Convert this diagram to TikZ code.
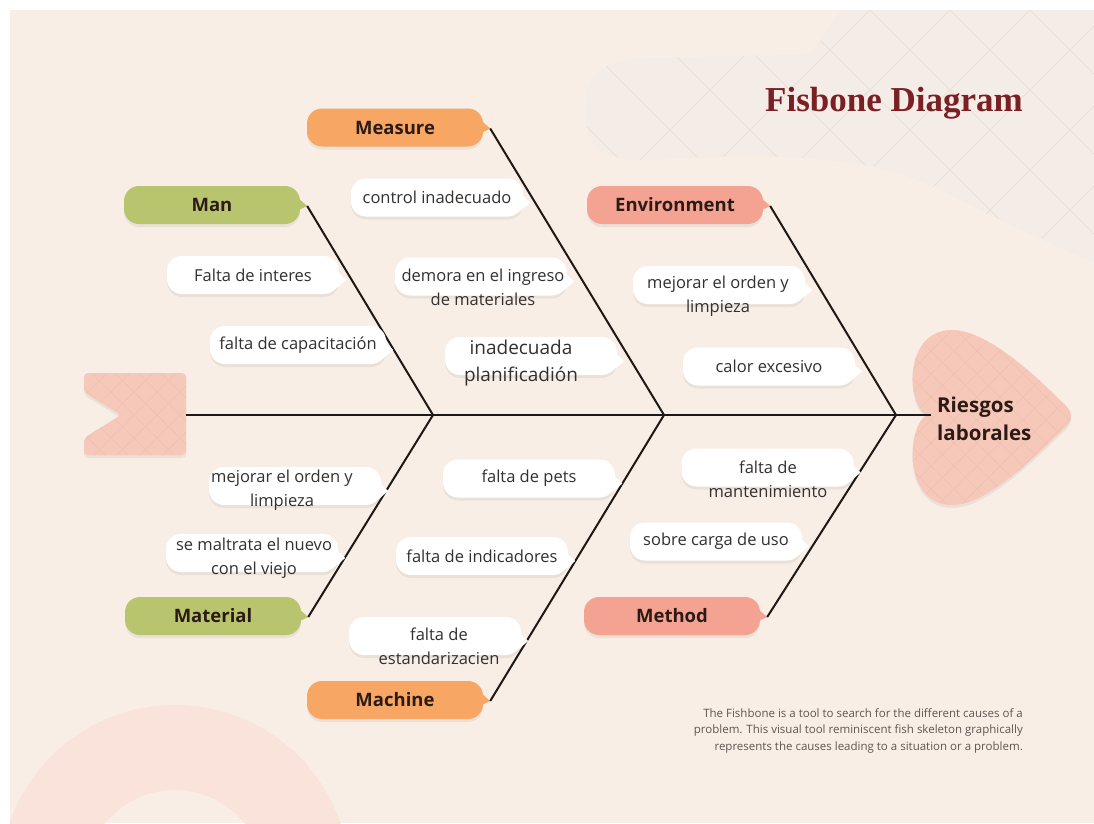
\documentclass[tikz,border=0pt]{standalone}
\usepackage{fontspec}
\setmainfont{Open Sans}
\newfontfamily\titlefont{Liberation Serif}
\usetikzlibrary{shadows}

\definecolor{paper}{HTML}{F8EEE5}
\definecolor{blob}{HTML}{F4ECE6}
\definecolor{gridc}{HTML}{E9E0D8}
\definecolor{greenc}{HTML}{B9C46E}
\definecolor{orangec}{HTML}{F7A763}
\definecolor{salmonc}{HTML}{F4A292}
\definecolor{headc}{HTML}{F6C8B9}
\definecolor{hatchc}{HTML}{F0BFAF}
\definecolor{arcc}{HTML}{F9E3DA}
\definecolor{titlec}{HTML}{7A1F24}
\definecolor{ink}{HTML}{2B1B14}
\definecolor{boneink}{HTML}{1E1916}
\definecolor{causeink}{HTML}{333030}
\definecolor{notec}{HTML}{5E5653}

\tikzset{
  soft/.style={drop shadow={shadow xshift=0pt, shadow yshift=-3pt, opacity=.12}},
  tag/.style={soft, rounded corners=15pt, minimum width=176pt, minimum height=38pt,
    inner sep=0pt, text=ink, font=\fontsize{18.5}{22}\selectfont\bfseries},
  causebox/.style={soft, fill=white, rounded corners=15pt, minimum width=172pt,
    minimum height=38pt, inner sep=0pt, text=causeink, font=\fontsize{16.5}{24}\selectfont},
  causetext/.style={inner sep=0pt, align=center, text=causeink, font=\fontsize{16.5}{24}\selectfont},
  effect/.style={inner sep=6pt, align=left, text=ink, font=\fontsize{20.5}{28}\selectfont\bfseries},
  title/.style={inner sep=0pt, text=titlec, font=\titlefont\fontsize{35}{40}\selectfont\bfseries},
  note/.style={inner sep=0pt, align=right, text=notec, font=\fontsize{11.5}{16.5}\selectfont},
  bone/.style={draw=boneink, line width=2pt},
  spine/.style={draw=boneink, line width=2.4pt},
  hatch/.style={draw=hatchc, line width=.6pt},
  gridline/.style={draw=gridc, line width=.8pt},
}

\begin{document}
\begin{tikzpicture}[x=1pt, y=-1pt]
  \useasboundingbox (0,0) rectangle (1094,823);
  \fill[white] (0,0) rectangle (1094,823);
  \fill[paper] (10,10) rectangle (1094,823);

  % background shapes
  \begin{scope}
    \clip (10,10) rectangle (1094,823);
    \fill[arcc, even odd rule] (175,880) circle (175pt) (175,880) circle (90pt);
    \clip (585,110) .. controls (585,70) and (610,58) .. (650,58) -- (800,55)
      .. controls (830,50) and (825,10) .. (850,10) -- (1094,10) -- (1094,262)
      .. controls (1040,240) and (980,210) .. (940,190)
      .. controls (880,160) and (800,150) .. (650,160)
      .. controls (610,162) and (585,150) .. (585,110) -- cycle;
    \fill[blob] (560,0) rectangle (1094,300);
    \foreach \k in {0,...,12} {
      \draw[gridline] (300+80*\k,0) -- ++(300,300);
      \draw[gridline] (500+80*\k,300) -- ++(300,-300);
    }
  \end{scope}

  % tail and head
  \fill[headc, soft, rounded corners=4pt, path picture={
      \foreach \k in {0,...,12} {
        \draw[hatch] (0+23*\k,350) -- ++(130,130);
        \draw[hatch] (0+23*\k,480) -- ++(130,-130);
      }}]
    (84,373) -- (186,373) -- (186,455) -- (84,455) -- (84,438) -- (121,415) -- (84,392) -- cycle;
  \fill[headc, soft, path picture={
      \foreach \k in {0,...,19} {
        \draw[hatch] (650+23*\k,300) -- ++(240,240);
        \draw[hatch] (650+23*\k,540) -- ++(240,-240);
      }}]
    (926,415) .. controls (905,400) and (905,330) .. (952,330)
    .. controls (985,330) and (1030,370) .. (1062,402)
    .. controls (1074,412) and (1074,420) .. (1062,430)
    .. controls (1030,462) and (985,505) .. (952,505)
    .. controls (905,505) and (905,432) .. (926,415) -- cycle;

  \node[title, anchor=base east] (title) at (1023,111) {Fisbone Diagram};
  \node[effect, anchor=west] (effect) at (931,419) {Riesgos\\laborales};

  % categories
  \node[tag, fill=greenc] (man) at (212,205) {Man};
  \node[tag, fill=orangec] (measure) at (395,127.5) {Measure};
  \node[tag, fill=salmonc] (env) at (675,205) {Environment};
  \node[tag, fill=greenc] (material) at (213,616) {Material};
  \node[tag, fill=orangec] (machine) at (395,700) {Machine};
  \node[tag, fill=salmonc] (method) at (672,616) {Method};
  \foreach \n/\col in {man/greenc, measure/orangec, env/salmonc,
                       material/greenc, machine/orangec, method/salmonc} {
    \coordinate (\n-tip) at ([shift={(7,1)}]\n.east);
    \fill[\col] ([shift={(-16,0)}]\n.north east) -- (\n-tip) -- ([shift={(-16,12)}]\n.east) -- cycle;
  }

  % skeleton
  \coordinate (tail) at (186,415);
  \coordinate (j1) at (433,415);
  \coordinate (j2) at (664,415);
  \coordinate (j3) at (896,415);
  \draw[spine] (tail) -- (tail -| effect.west);
  \draw[bone] (man-tip) -- (j1) -- (material-tip);
  \draw[bone] (measure-tip) -- (j2) -- (machine-tip);
  \draw[bone] (env-tip) -- (j3) -- (method-tip);

  % causes
  \node[causebox] (ctrl) at (437,197.5) {control inadecuado};
  \node[causebox] (interes) at (253,275) {Falta de interes};
  \node[causebox, minimum width=176pt] (capac) at (298,345) {falta de capacitación};
  \node[causebox] (demora) at (481,276.5) {};
  \node[causebox] (inadec) at (531,356) {};
  \node[causebox] (envmej) at (719,285) {};
  \node[causebox] (calor) at (769,366.5) {calor excesivo};
  \node[causebox] (matmej) at (295,486) {};
  \node[causebox] (maltrata) at (252,553) {};
  \node[causebox] (pets) at (529,478.5) {falta de pets};
  \node[causebox] (indic) at (482,556) {falta de indicadores};
  \node[causebox] (estand) at (435,636) {};
  \node[causebox] (mant) at (767.5,467.5) {};
  \node[causebox] (sobre) at (716,541.5) {sobre carga de uso};
  \foreach \n in {ctrl, interes, capac, demora, inadec, envmej, calor,
                  matmej, maltrata, pets, indic, estand, mant, sobre}
    \fill[white] ([shift={(-5,-6)}]\n.east) -- ([shift={(7,5)}]\n.east) -- ([shift={(-5,15)}]\n.east) -- cycle;

  \node[causetext] (demora-t) at (483,287) {demora en el ingreso\\de materiales};
  \node[causetext, font=\fontsize{19}{27}\selectfont] (inadec-t) at (521,363.5) {inadecuada\\planificadión};
  \node[causetext] (envmej-t) at (718,296.5) {mejorar el orden y\\limpieza};
  \node[causetext] (matmej-t) at (282,490.5) {mejorar el orden y\\limpieza};
  \node[causetext] (maltrata-t) at (254,558) {se maltrata el nuevo\\con el viejo};
  \node[causetext] (estand-t) at (439,646) {falta de\\estandarizacien};
  \node[causetext] (mant-t) at (768,479) {falta de\\mantenimiento};

  \node[note, anchor=north east] (note) at (1023,708) {The Fishbone is a tool to search for the different causes of a\\
    problem. This visual tool reminiscent fish skeleton graphically\\
    represents the causes leading to a situation or a problem.};
\end{tikzpicture}
\end{document}
